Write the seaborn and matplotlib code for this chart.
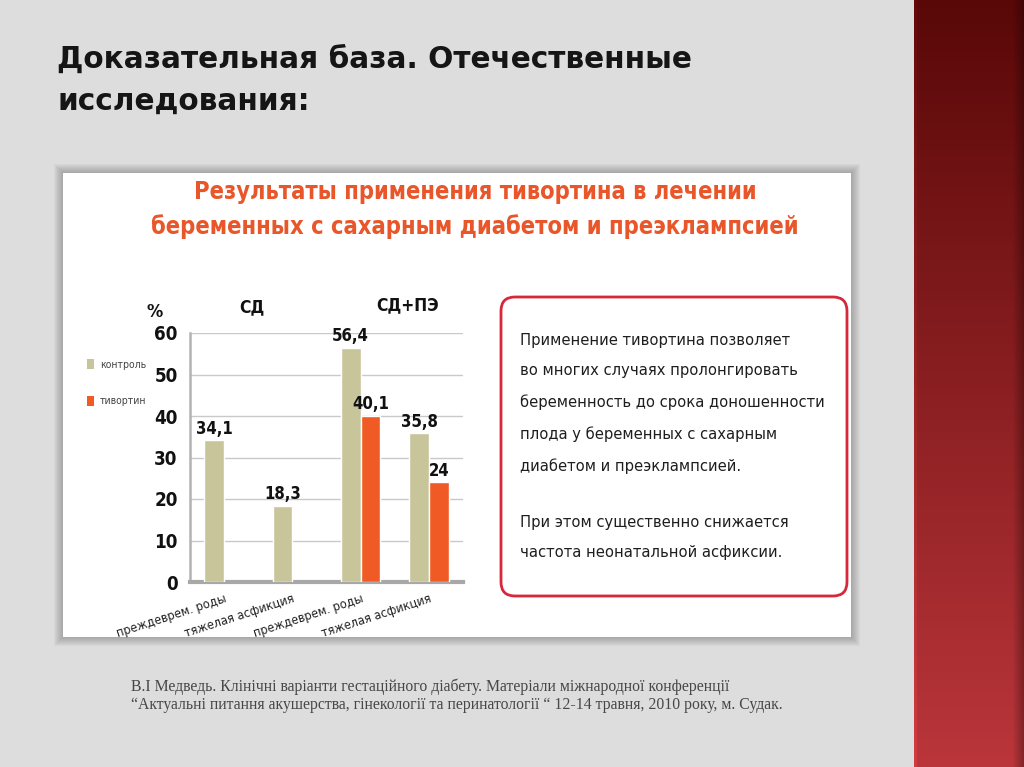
import numpy as np
import pandas as pd
import matplotlib
matplotlib.use('Agg')
import matplotlib.pyplot as plt
import seaborn as sns
from matplotlib import font_manager
from matplotlib.font_manager import FontProperties
from matplotlib.patches import Rectangle, FancyBboxPatch, Patch

# --- data -----------------------------------------------------------------
slide_title = ['Доказательная база. Отечественные', 'исследования:']
chart_title = ['Результаты применения тивортина в лечении',
               'беременных с сахарным диабетом и преэклампсией']
group_labels = ['СД', 'СД+ПЭ']
categories = ['СД: преждеврем. роды', 'СД: тяжелая асфикция',
              'СД+ПЭ: преждеврем. роды', 'СД+ПЭ: тяжелая асфикция']
tick_labels = ['преждеврем. роды', 'тяжелая асфикция',
               'преждеврем. роды', 'тяжелая асфикция']
series = ['контроль', 'тивортин']
control = [34.1, 18.3, 56.4, 35.8]
tivortin = [np.nan, np.nan, 40.1, 24]
yticks = [0, 10, 20, 30, 40, 50, 60]
note_par1 = ['Применение тивортина позволяет',
             'во многих случаях пролонгировать',
             'беременность до срока доношенности',
             'плода у беременных с сахарным',
             'диабетом и преэклампсией.']
note_par2 = ['При этом существенно снижается',
             'частота неонатальной асфиксии.']
citation = ['В.І Медведь. Клінічні варіанти гестаційного діабету. Матеріали міжнародної конференції',
            '“Актуальні питання акушерства, гінекології та перинатології “ 12-14 травня, 2010 року, м. Судак.']

df = pd.DataFrame({
    'category': categories * 2,
    'series': [series[0]] * 4 + [series[1]] * 4,
    'value': control + tivortin,
}).dropna()

olive = '#c8c59b'
orange = '#f05a24'

# prefer a condensed face if one is installed, else plain Liberation Sans
fl = font_manager.fontManager.ttflist
names = {f.name for f in fl}
narrow = {'family': 'Liberation Sans'}
if 'Liberation Sans Narrow' in names:
    narrow = {'family': 'Liberation Sans Narrow'}
else:
    for fam in ['DejaVu Sans', 'Noto Sans', 'Open Sans', 'Roboto']:
        if any(f.name == fam and f.stretch in ('condensed', 'semi-condensed', 300, 400) for f in fl):
            narrow = {'family': fam, 'fontstretch': 'condensed'}
            break

sns.set_theme(style='white')
plt.rcParams['font.family'] = ['DejaVu Sans']

fig = plt.figure(figsize=(10.24, 7.67), dpi=100)
fig.patch.set_facecolor('#dddddd')
renderer = fig.canvas.get_renderer()


def fit(txt, width_px):
    # scale font so the rendered text takes the given pixel width
    bb = txt.get_window_extent(renderer)
    txt.set_fontsize(txt.get_fontsize() * width_px / bb.width)


# background layer in pixel coordinates
bg = fig.add_axes([0, 0, 1, 1], zorder=0)
bg.set_xlim(0, 1024)
bg.set_ylim(767, 0)
bg.axis('off')

# red strip on the right
h, w = 200, 110
top = np.array([0.35, 0.03, 0.03])
bot = np.array([0.73, 0.21, 0.23])
t = np.linspace(0, 1, h)[:, None, None]
img = top + (bot - top) * t
img = np.repeat(img, w, axis=1)
shade = np.ones(w)
shade[:3] = 1.12
shade[-12:] = np.linspace(1.0, 0.7, 12)
img = np.clip(img * shade[None, :, None], 0, 1)
bg.imshow(img, extent=(914, 1024, 767, 0), aspect='auto', zorder=1)

# white panel with soft shadow
px0, py0, px1, py1 = 63, 173, 851, 637
for k in range(9, 0, -1):
    bg.add_patch(Rectangle((px0 - k, py0 - k), px1 - px0 + 2 * k, py1 - py0 + 2 * k,
                           facecolor='#4a4a4a', alpha=0.045, lw=0, zorder=2))
panel = Rectangle((px0, py0), px1 - px0, py1 - py0, facecolor='white', lw=0, zorder=3)
bg.add_patch(panel)

# slide title
for i, line in enumerate(slide_title):
    bg.text(57, 68 + 42 * i, line, fontsize=21.3, fontweight='bold', color='#151515',
            va='baseline', ha='left', zorder=5)

# chart title (top clipped by the panel)
title_widths = [563, 648]
for i, line in enumerate(chart_title):
    txt = bg.text(475, 199 + 35 * i, line, fontsize=20, fontweight='bold', color='#e8562a',
                  va='baseline', ha='center', zorder=5, **narrow)
    fit(txt, title_widths[i])
    txt.set_clip_path(panel)

# note box
bg.add_patch(FancyBboxPatch((501, 297), 346, 299, boxstyle='round,pad=0,rounding_size=14',
                            facecolor='white', edgecolor='#d5283a', lw=2, zorder=4))
note_y = [340, 371, 402, 434, 466, 522, 553]
note_txt = []
for y, line in zip(note_y, note_par1 + note_par2):
    note_txt.append(bg.text(520, y, line, fontsize=14, color='#1e1e1e',
                            va='center', ha='left', zorder=5, **narrow))
fit(note_txt[2], 305)
for tx in note_txt:
    tx.set_fontsize(note_txt[2].get_fontsize())

# citation
for y, line in zip([687, 705], citation):
    bg.text(131, y, line, fontsize=11.3, family='Liberation Serif', color='#474747',
            va='center', ha='left', zorder=5)

# --- chart ----------------------------------------------------------------
ax = fig.add_axes([190 / 1024, 1 - 582 / 767, 273 / 1024, 249 / 767], zorder=2)
ax.set_facecolor('none')
sns.barplot(data=df, x='category', y='value', hue='series', order=categories,
            hue_order=series, palette=[olive, orange], width=0.58, saturation=1,
            legend=False, ax=ax, zorder=3)

for c in ax.containers:
    ax.bar_label(c, labels=[f'{b.get_height():g}'.replace('.', ',') for b in c],
                 padding=2, fontsize=12, fontweight='bold', color='#111111', **narrow)

ax.set_xlim(-0.5, 3.5)
ax.set_ylim(0, 60)
ax.set_yticks(yticks)
ax.set_yticklabels([str(v) for v in yticks], fontsize=13.5, fontweight='bold',
                   color='#111111', **narrow)
ax.yaxis.grid(True, color='#c9c9c9', lw=1)
ax.set_axisbelow(True)
ax.set_xticks(range(len(categories)))
xt = ax.set_xticklabels(tick_labels, rotation=18, ha='right', rotation_mode='anchor',
                        fontsize=11.5, color='#222222', **narrow)
ax.set_xticks([-0.5, 0.5, 1.5, 2.5], minor=True)
ax.tick_params(axis='x', which='major', length=0, pad=7)
ax.tick_params(axis='x', which='minor', length=5, width=1.2, color='#a8a8a8', direction='out')
ax.tick_params(axis='y', length=0, pad=9)
ax.set_xlabel('')
ax.set_ylabel('')
for s in ['top', 'right']:
    ax.spines[s].set_visible(False)
ax.spines['left'].set_color('#b3b3b3')
ax.spines['left'].set_linewidth(1.8)
ax.spines['bottom'].set_color('#a8a8a8')
ax.spines['bottom'].set_linewidth(3)

fit(xt[0], 112)
for tl in xt:
    tl.set_fontsize(xt[0].get_fontsize())

# group headings and unit
bg.text(155, 312, '%', fontsize=13, fontweight='bold', color='#111111',
        ha='center', va='center', zorder=5, **narrow)
bg.text(252, 307, group_labels[0], fontsize=12.5, fontweight='bold',
        color='#111111', ha='center', va='center', zorder=5, **narrow)
bg.text(408, 305, group_labels[1], fontsize=12.5, fontweight='bold',
        color='#111111', ha='center', va='center', zorder=5, **narrow)

# legend left of the axes
legend_font = FontProperties(family=narrow['family'], stretch=narrow.get('fontstretch', 'normal'),
                             size=7.5)
handles = [Patch(facecolor=olive, edgecolor='none'), Patch(facecolor=orange, edgecolor='none')]
fig.legend(handles, series, loc='upper left', bbox_to_anchor=(78 / 1024, 1 - 350 / 767),
           frameon=False, handlelength=0.6, handleheight=1.1, handletextpad=0.6,
           labelspacing=2.5, prop=legend_font, labelcolor='#444444')

fig.savefig('out.png', dpi=100, facecolor=fig.get_facecolor())
